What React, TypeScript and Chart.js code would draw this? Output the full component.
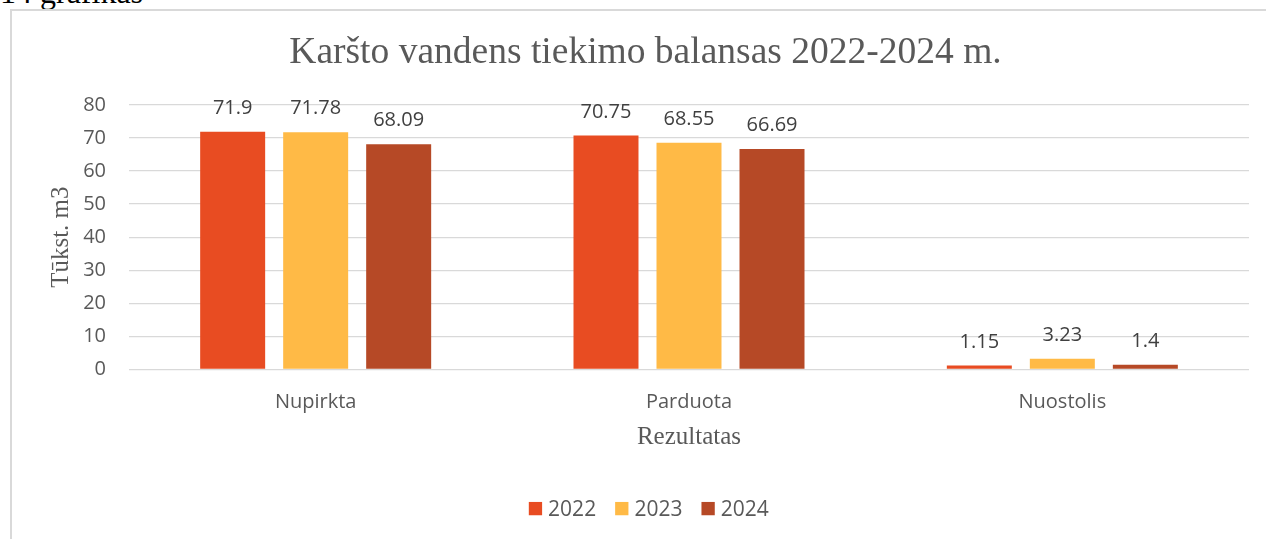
import React, { useEffect, useRef } from "react";
import { Chart, registerables } from "chart.js";

Chart.register(...registerables);

const categories = ["Nupirkta", "Parduota", "Nuostolis"];
const seriesLabels = ["2022", "2023", "2024"];
const values2022 = [71.9, 70.75, 1.15];
const values2023 = [71.78, 68.55, 3.23];
const values2024 = [68.09, 66.69, 1.4];
const seriesColors = ["#E84C22", "#FFBA46", "#B64926"];
const yMin = 0;
const yMax = 80;
const yStep = 10;
const chartTitle = "Karšto vandens tiekimo balansas 2022-2024 m.";
const yAxisTitle = "Tūkst. m3";
const xAxisTitle = "Rezultatas";
const captionText = "14 grafikas";

const SANS = "'Open Sans', 'Noto Sans', sans-serif";
const SERIF = "'Liberation Serif', 'DejaVu Serif', serif";

const titlePlugin = {
  id: "customTitle",
  afterDraw(chart: any) {
    const ctx = chart.ctx;
    ctx.save();
    ctx.font = `37.5px ${SERIF}`;
    ctx.fillStyle = "#595959";
    ctx.textAlign = "center";
    ctx.textBaseline = "alphabetic";
    ctx.fillText(chartTitle, chart.width / 2, 52);
    ctx.restore();
  },
};

const dataLabelPlugin = {
  id: "dataLabels",
  afterDatasetsDraw(chart: any) {
    const ctx = chart.ctx;
    ctx.save();
    ctx.font = `20px ${SANS}`;
    ctx.fillStyle = "#404040";
    ctx.textAlign = "center";
    ctx.textBaseline = "alphabetic";
    chart.data.datasets.forEach((ds: any, i: number) => {
      const meta = chart.getDatasetMeta(i);
      meta.data.forEach((bar: any, j: number) => {
        ctx.fillText(String(ds.data[j]), bar.x, bar.y - 18);
      });
    });
    ctx.restore();
  },
};

const legendPlugin = {
  id: "customLegend",
  afterDraw(chart: any) {
    const ctx = chart.ctx;
    ctx.save();
    ctx.font = `21px ${SANS}`;
    const box = 13.3;
    const gapBoxText = 6;
    const gapItems = 19;
    const widths = seriesLabels.map((l) => ctx.measureText(l).width);
    let total = 0;
    widths.forEach((w, i) => {
      total += box + gapBoxText + w + (i < widths.length - 1 ? gapItems : 0);
    });
    let x = 637.8 - total / 2;
    const cy = 497.6;
    seriesLabels.forEach((label, i) => {
      ctx.fillStyle = seriesColors[i];
      ctx.fillRect(x, cy - box / 2, box, box);
      ctx.fillStyle = "#595959";
      ctx.textAlign = "left";
      ctx.textBaseline = "alphabetic";
      ctx.fillText(label, x + box + gapBoxText, cy + 7.6);
      x += box + gapBoxText + widths[i] + gapItems;
    });
    ctx.restore();
  },
};

function BarChart() {
  const ref = useRef<HTMLCanvasElement | null>(null);
  useEffect(() => {
    if (!ref.current) return;
    const chart = new Chart(ref.current, {
      type: "bar",
      data: {
        labels: categories,
        datasets: [
          { label: seriesLabels[0], data: values2022, backgroundColor: seriesColors[0] },
          { label: seriesLabels[1], data: values2023, backgroundColor: seriesColors[1] },
          { label: seriesLabels[2], data: values2024, backgroundColor: seriesColors[2] },
        ],
      },
      options: {
        animation: false,
        responsive: false,
        devicePixelRatio: 1,
        layout: { padding: { top: 94, right: 31, left: 0, bottom: 528 - 358.3 - 100 } },
        datasets: {
          bar: { categoryPercentage: 0.667, barPercentage: 0.783 },
        },
        plugins: {
          legend: { display: false },
          title: { display: false },
          tooltip: { enabled: false },
        },
        scales: {
          x: {
            grid: { display: false, drawTicks: false },
            border: { display: false },
            ticks: { color: "#595959", font: { family: SANS, size: 20 }, padding: 21 },
            title: {
              display: true,
              text: xAxisTitle,
              color: "#595959",
              font: { family: SERIF, size: 25 },
              padding: { top: 0, bottom: 17 },
            },
            afterFit: (s: any) => { s.height = 100; },
          },
          y: {
            min: yMin,
            max: yMax,
            grid: { color: "#d9d9d9", lineWidth: 1.3, drawTicks: false },
            border: { display: false },
            ticks: { stepSize: yStep, color: "#595959", font: { family: SANS, size: 20 }, padding: 23 },
            title: {
              display: true,
              text: yAxisTitle,
              color: "#595959",
              font: { family: SERIF, size: 25 },
              padding: { top: 35, bottom: 0 },
            },
            afterFit: (s: any) => { s.width = 118; },
          },
        },
      },
      plugins: [titlePlugin, dataLabelPlugin, legendPlugin],
    } as any);
    return () => chart.destroy();
  }, []);
  return (
    <canvas
      ref={ref}
      width={1269}
      height={528}
      style={{ position: "absolute", left: 11, top: 11, width: 1269, height: 528 }}
    />
  );
}

export default function App() {
  return (
    <div
      style={{
        position: "fixed",
        left: 0,
        top: 0,
        width: 1266,
        height: 539,
        overflow: "hidden",
        background: "#ffffff",
      }}
    >
      <div
        style={{
          position: "absolute",
          left: 0,
          top: -24,
          fontFamily: SERIF,
          fontSize: 32,
          lineHeight: "32px",
          color: "#000000",
          whiteSpace: "nowrap",
        }}
      >
        {captionText}
      </div>
      <div
        style={{
          position: "absolute",
          left: 10,
          top: 9,
          width: 1400,
          height: 700,
          borderLeft: "2px solid #d9d9d9",
          borderTop: "2px solid #d9d9d9",
        }}
      />
      <BarChart />
    </div>
  );
}
